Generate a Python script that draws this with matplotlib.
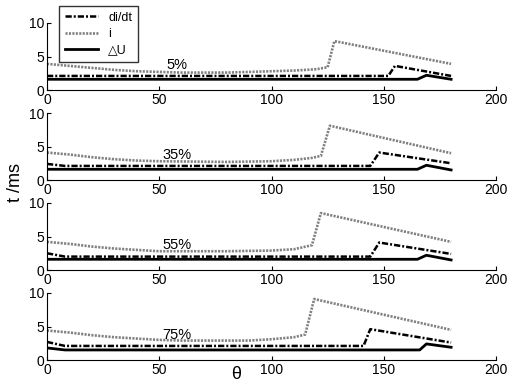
import matplotlib
matplotlib.use("Agg")
import matplotlib.pyplot as plt

plt.rcParams["font.family"] = ["Liberation Sans", "DejaVu Sans"]

labels = ["5%", "35%", "55%", "75%"]

# i (gray dotted)
i_theta = [
    [0, 10, 20, 30, 40, 50, 60, 80, 100, 110, 120, 125, 128, 180],
    [0, 10, 20, 30, 40, 50, 80, 100, 110, 118, 122, 126, 180],
    [0, 10, 20, 30, 40, 50, 80, 100, 110, 118, 122, 180],
    [0, 10, 20, 30, 40, 50, 60, 90, 100, 110, 115, 119, 180],
]
i_vals = [
    [3.9, 3.6, 3.3, 3.0, 2.8, 2.7, 2.6, 2.6, 2.8, 2.9, 3.1, 3.4, 7.3, 3.9],
    [4.1, 3.8, 3.4, 3.1, 2.9, 2.8, 2.7, 2.8, 3.0, 3.3, 3.6, 8.1, 4.0],
    [4.2, 3.9, 3.5, 3.2, 3.0, 2.8, 2.8, 2.9, 3.1, 3.7, 8.5, 4.2],
    [4.4, 4.1, 3.7, 3.4, 3.2, 3.0, 2.9, 2.9, 3.1, 3.4, 3.8, 9.1, 4.5],
]

# di/dt (black dash-dot)
d_theta = [
    [0, 152, 155, 180],
    [0, 8, 144, 148, 180],
    [0, 8, 144, 148, 180],
    [0, 8, 141, 144, 180],
]
d_vals = [
    [2.1, 2.1, 3.6, 2.1],
    [2.4, 2.1, 2.1, 4.1, 2.5],
    [2.5, 2.0, 2.0, 4.1, 2.4],
    [2.7, 2.1, 2.1, 4.6, 2.6],
]

# delta U (black solid)
u_theta = [
    [0, 165, 169, 180],
    [0, 165, 169, 180],
    [0, 165, 169, 180],
    [0, 8, 166, 169, 180],
]
u_vals = [
    [1.6, 1.6, 2.2, 1.6],
    [1.6, 1.6, 2.2, 1.5],
    [1.6, 1.6, 2.2, 1.5],
    [1.8, 1.5, 1.5, 2.4, 1.9],
]

fig = plt.figure(figsize=(5.1, 3.88), dpi=100)

axes = []
for k in range(4):
    bottom = 1 - (90 + 90 * k) / 388
    ax = fig.add_axes([47 / 510, bottom, 449 / 510, 67 / 388])
    axes.append(ax)
    l1, = ax.plot(d_theta[k], d_vals[k], color="black", lw=1.8,
                  linestyle=(0, (2.5, 0.8, 0.8, 0.8)), label="di/dt")
    l2, = ax.plot(i_theta[k], i_vals[k], color="#808080", lw=1.9,
                  linestyle=(0, (0.8, 0.5)), label="i")
    l3, = ax.plot(u_theta[k], u_vals[k], color="black", lw=2.0, label="\u25b3U")
    ax.text(58, 3.7, labels[k], ha="center", va="center", fontsize=10.5)
    ax.set_xlim(0, 200)
    ax.set_ylim(0, 10)
    ax.set_xticks([0, 50, 100, 150, 200])
    ax.set_yticks([0, 5, 10])
    ax.spines["top"].set_visible(False)
    ax.spines["right"].set_visible(False)
    ax.tick_params(direction="in", length=3, labelsize=10, pad=2)
    ax.patch.set_alpha(0)

leg = axes[0].legend(handles=[l1, l2, l3], loc="upper left",
                     bbox_to_anchor=(12 / 449, 1 + 17 / 67), fontsize=9,
                     frameon=True, fancybox=False, edgecolor="black",
                     handlelength=2.7, handletextpad=0.8, borderpad=0.45,
                     labelspacing=0.35, borderaxespad=0)
leg.get_frame().set_linewidth(1.0)

axes[3].text(84, -2.2, "\u03b8", ha="center", va="center", fontsize=13)
fig.text(16 / 510, 1 - 183 / 388, "t /ms", rotation=90, ha="center",
         va="center", fontsize=13)

fig.savefig("out.png", dpi=100)
